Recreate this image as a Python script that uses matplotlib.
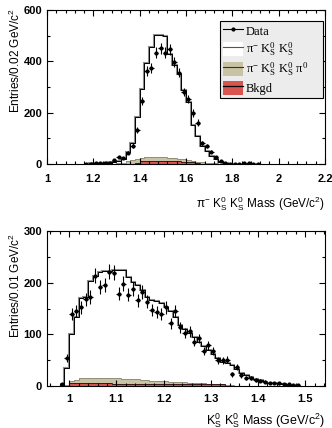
import numpy as np
import matplotlib
matplotlib.use("Agg")
import matplotlib.pyplot as plt
from matplotlib.patches import Patch
from matplotlib.lines import Line2D
from matplotlib.ticker import MultipleLocator

plt.rcParams['font.family'] = ['Liberation Sans', 'DejaVu Sans']
plt.rcParams['mathtext.fontset'] = 'custom'
plt.rcParams['mathtext.rm'] = 'Liberation Sans'
plt.rcParams['mathtext.default'] = 'regular'

TAN = '#c9c3a5'
RED = '#d9534f'

# ---- top panel: pi- Ks Ks mass, 0.02 GeV bins starting at 1.16
top_lo, top_w = 1.16, 0.02
top_data = [0, 1, 3, 4, 5, 4, 15, 27, 23, 44, 72, 131, 246, 362, 375, 434, 450, 434, 447,
            396, 356, 280, 252, 199, 161, 82, 70, 48, 27, 12, 2, 1, 0, 0, 2, 2, 1, 0]
top_mc = [0, 2, 3, 4, 5, 6, 8, 12, 20, 45, 80, 182, 291, 395, 457, 503, 503, 500, 430,
          385, 350, 290, 240, 150, 110, 72, 52, 32, 20, 8, 3, 1, 1, 0, 0, 0, 0, 0]
top_pi0 = [0, 0, 0, 0, 0, 0, 0, 3, 5, 10, 15, 20, 24, 27, 29, 29, 28, 27, 25,
           23, 21, 18, 15, 12, 9, 6, 4, 3, 2, 0, 0, 0, 0, 0, 0, 0, 0, 0]
top_bkg = [0, 0, 0, 0, 0, 0, 0, 0, 0, 0, 0, 5, 10, 11, 12, 12, 12, 11, 11,
           10, 10, 9, 9, 8, 3, 0, 0, 0, 0, 0, 0, 0, 0, 0, 0, 0, 0, 0]

# ---- bottom panel: Ks Ks mass, 0.01 GeV bins starting at 0.98
bot_lo, bot_w = 0.98, 0.01
bot_data = [4, 54, 139, 145, 152, 168, 172, 213, 192, 195, 221, 219, 179, 198, 177, 187, 166,
            182, 163, 147, 143, 139, 152, 121, 145, 114, 103, 106, 86, 92, 68, 79, 68, 50,
            50, 51, 23, 37, 21, 16, 16, 12, 10, 8, 6, 6, 5, 3, 3, 2, 1]
bot_mc = [0, 34, 100, 134, 170, 172, 203, 213, 220, 222, 222, 225, 225, 224, 211, 201, 195,
          185, 172, 166, 164, 160, 152, 145, 134, 118, 110, 102, 95, 85, 78, 70, 62, 55,
          47, 44, 40, 32, 25, 21, 17, 14, 11, 8, 6, 5, 4, 3, 2, 1, 0]
bot_pi0 = [0, 2, 10, 12, 15, 16, 16, 16, 16, 16, 15, 15, 15, 14, 14, 13, 13,
           12, 11, 10, 10, 9, 9, 8, 8, 7, 7, 6, 6, 5, 5, 4, 4, 3,
           3, 2, 1, 0, 0, 0, 0, 0, 0, 0, 0, 0, 0, 0, 0, 0, 0]
bot_bkg = [0, 0, 5, 5, 5, 5, 5, 5, 5, 5, 5, 4, 4, 4, 4, 4, 4,
           4, 4, 4, 4, 4, 4, 4, 4, 4, 4, 4, 4, 4, 4, 4, 4, 4,
           4, 0, 0, 0, 0, 0, 0, 0, 0, 0, 0, 0, 0, 0, 0, 0, 0]


def draw_panel(ax, lo, w, data, mc, pi0, bkg):
    n = len(data)
    edges = lo + w * np.arange(n + 1)
    centers = edges[:-1] + w / 2
    ax.stairs(pi0, edges, fill=True, color=TAN, lw=0)
    ax.stairs(pi0, edges, color='#8a8570', lw=0.6, baseline=None)
    ax.stairs(bkg, edges, fill=True, color=RED, lw=0)
    ax.stairs(bkg, edges, color='black', lw=0.5, baseline=None)
    ax.stairs(mc, edges, color='#8c8c8c', lw=1.5)
    ax.stairs(mc, edges, color='black', lw=0.7)
    d = np.array(data, dtype=float)
    ax.errorbar(centers, d, yerr=np.sqrt(d), xerr=w / 2, fmt='o', ms=2,
                color='black', ecolor='black', elinewidth=0.8, capsize=0, zorder=5)
    ax.tick_params(which='both', direction='in', top=True, right=True,
                   labelsize=8, width=0.8)
    ax.tick_params(which='major', length=4.5)
    ax.tick_params(which='minor', length=2.5)
    for lab in ax.get_xticklabels() + ax.get_yticklabels():
        lab.set_fontweight('bold')
    for s in ax.spines.values():
        s.set_linewidth(0.8)


fig = plt.figure(figsize=(3.32, 4.28), dpi=100)
ax1 = fig.add_axes([47 / 332, 1 - 164 / 428, 278 / 332, 154 / 428])
ax2 = fig.add_axes([47 / 332, 1 - 386 / 428, 278 / 332, 155 / 428])

ax1.set_xlim(1.0, 2.2)
ax1.set_ylim(0, 600)
ax1.xaxis.set_major_locator(MultipleLocator(0.2))
ax1.xaxis.set_minor_locator(MultipleLocator(0.04))
ax1.yaxis.set_major_locator(MultipleLocator(200))
ax1.yaxis.set_minor_locator(MultipleLocator(100))
ax1.set_xticks([1, 1.2, 1.4, 1.6, 1.8, 2, 2.2], ['1', '1.2', '1.4', '1.6', '1.8', '2', '2.2'])
ax1.set_yticks([0, 200, 400, 600], ['0', '200', '400', '600'])
draw_panel(ax1, top_lo, top_w, top_data, top_mc, top_pi0, top_bkg)
ax1.tick_params(axis='x', pad=7)
ax1.set_xlabel(r'π$^{-}$ K$^{0}_{S}$ K$^{0}_{S}$ Mass (GeV/c$^{2}$)', loc='right', fontsize=8.5)
ax1.xaxis.set_label_coords(1.0, -0.20)
ax1.set_ylabel(r'Entries/0.02 GeV/c$^{2}$', loc='top', fontsize=8.5)
ax1.yaxis.set_label_coords(-0.085, 1.01)

ax2.set_xlim(0.953, 1.542)
ax2.set_ylim(0, 300)
ax2.xaxis.set_major_locator(MultipleLocator(0.1))
ax2.xaxis.set_minor_locator(MultipleLocator(0.02))
ax2.yaxis.set_major_locator(MultipleLocator(100))
ax2.yaxis.set_minor_locator(MultipleLocator(50))
ax2.set_xticks([1, 1.1, 1.2, 1.3, 1.4, 1.5], ['1', '1.1', '1.2', '1.3', '1.4', '1.5'])
ax2.set_yticks([0, 100, 200, 300], ['0', '100', '200', '300'])
draw_panel(ax2, bot_lo, bot_w, bot_data, bot_mc, bot_pi0, bot_bkg)
ax2.tick_params(axis='x', pad=6)
ax2.set_xlabel(r'K$^{0}_{S}$ K$^{0}_{S}$ Mass (GeV/c$^{2}$)', loc='right', fontsize=9)
ax2.xaxis.set_label_coords(1.0, -0.16)
ax2.set_ylabel(r'Entries/0.01 GeV/c$^{2}$', loc='top', fontsize=8.5)
ax2.yaxis.set_label_coords(-0.085, 0.99)

# legend in the top panel
serif = ['Liberation Serif', 'DejaVu Serif']
handles = [
    Line2D([], [], color='black', marker='o', ms=2, lw=0.8),
    (Patch(facecolor='white', edgecolor='none'), Line2D([], [], color='#555555', lw=0.8)),
    (Patch(facecolor=TAN, edgecolor='none'), Line2D([], [], color='#333333', lw=0.8)),
    (Patch(facecolor=RED, edgecolor='none'), Line2D([], [], color='black', lw=0.9)),
]
labels = ['Data', r'π$^{-}$ K$^{0}_{S}$ K$^{0}_{S}$',
          r'π$^{-}$ K$^{0}_{S}$ K$^{0}_{S}$ π$^{0}$', 'Bkgd']
leg = ax1.legend(handles, labels, loc='upper left',
                 bbox_to_anchor=(0.622, 0.93, 0.371, 0.0), mode='expand',
                 prop={'family': serif, 'size': 9}, frameon=True, fancybox=False,
                 facecolor='#ececec', edgecolor='black', framealpha=1,
                 handlelength=1.6, handleheight=1.35, handletextpad=0.2,
                 labelspacing=0.2, borderpad=0.25, borderaxespad=0)
leg.get_frame().set_linewidth(0.8)

fig.savefig('out.png', dpi=100)
